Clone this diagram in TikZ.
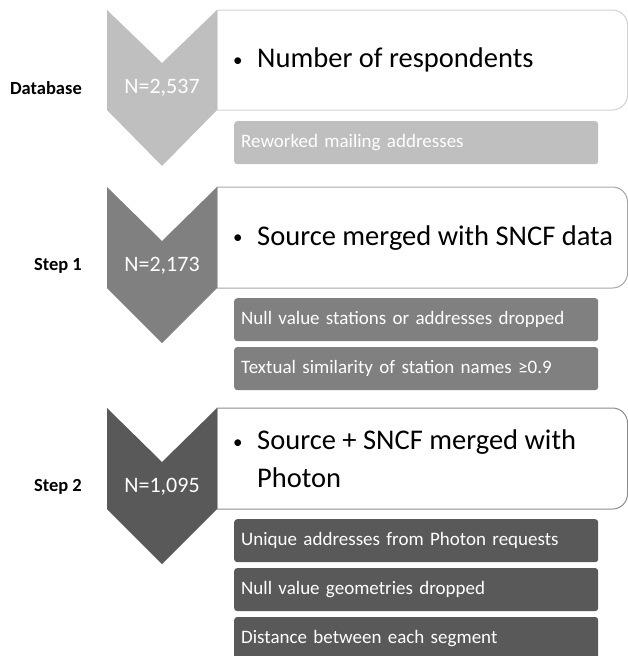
\documentclass[tikz,border=0pt]{standalone}
\usepackage{fontspec}
\setmainfont{Carlito}
\usepackage{xcolor}
\usetikzlibrary{positioning}
\definecolor{lev1}{HTML}{BFBFBF}
\definecolor{lev2}{HTML}{808080}
\definecolor{lev3}{HTML}{595959}
\definecolor{edge1}{HTML}{D2D2D2}
\definecolor{edge2}{HTML}{A6A6A6}
\definecolor{edge3}{HTML}{8C8C8C}
\newcommand{\headbullet}{\makebox[24pt][l]{\raisebox{1.5pt}{\fontsize{19}{19}\selectfont\textbullet}}}
\tikzstyle{steplabel} = [anchor=east, inner sep=0pt, font=\fontsize{18.5}{22}\selectfont\bfseries]
\tikzstyle{chevtext} = [inner sep=0pt, text=white, font=\fontsize{22}{26}\selectfont]
\tikzstyle{headbox} = [line width=1pt, fill=white]
\tikzstyle{headtext} = [anchor=west, inner sep=0pt, align=left, font=\fontsize{28.5}{38}\selectfont]
\tikzstyle{subbox} = [rectangle, rounded corners=3pt, minimum height=43pt, text width=350pt, inner xsep=7pt, inner ysep=0pt, align=left, text=white, font=\fontsize{19}{23}\selectfont]

\begin{document}
\begin{tikzpicture}[x=1pt, y=-1pt, node distance=5.5pt]
\useasboundingbox (0,0) rectangle (628,656);

% Database
\draw [headbox, draw=edge1] (400,110) -- (217,110) -- (217,10) -- (400,10) [rounded corners=15pt] -- (627.5,10) -- (627.5,110) -- cycle;
\fill [lev1] (107,10) -- (162,63) -- (217,10) -- (217,110) -- (162,166) -- (107,110) -- cycle;
\node (db) [steplabel] at (82,88) {Database};
\node (n0) [chevtext] at (162,88) {N=2,537};
\node (h0) [headtext] at (233,60) {\headbullet Number of respondents};
\node (s0a) [subbox, fill=lev1, anchor=north west] at (234,121) {Reworked mailing addresses};

% Step 1
\draw [headbox, draw=edge2] (400,288) -- (217,288) -- (217,187) -- (400,187) [rounded corners=15pt] -- (627.5,187) -- (627.5,288) -- cycle;
\fill [lev2] (107,187) -- (162,241) -- (217,187) -- (217,288) -- (162,343) -- (107,288) -- cycle;
\node (st1) [steplabel] at (82,266) {Step 1};
\node (n1) [chevtext] at (162,266) {N=2,173};
\node (h1) [headtext] at (233,238) {\headbullet Source merged with SNCF data};
\node (s1a) [subbox, fill=lev2, anchor=north west] at (234,298) {Null value stations or addresses dropped};
\node (s1b) [subbox, fill=lev2, below=of s1a] {Textual similarity of station names ≥0.9};

% Step 2
\draw [headbox, draw=edge3] (400,509) -- (217,509) -- (217,408) -- (400,408) [rounded corners=15pt] -- (627.5,408) -- (627.5,509) -- cycle;
\fill [lev3] (107,408) -- (162,462) -- (217,408) -- (217,509) -- (162,564) -- (107,509) -- cycle;
\node (st2) [steplabel] at (82,487) {Step 2};
\node (n2) [chevtext] at (162,487) {N=1,095};
\node (h2) [headtext] at (233,459) {\headbullet Source + SNCF merged with\\\hspace*{24pt}Photon};
\node (s2a) [subbox, fill=lev3, anchor=north west] at (234,519) {Unique addresses from Photon requests};
\node (s2b) [subbox, fill=lev3, below=of s2a] {Null value geometries dropped};
\node (s2c) [subbox, fill=lev3, below=of s2b] {Distance between each segment};

\end{tikzpicture}
\end{document}
